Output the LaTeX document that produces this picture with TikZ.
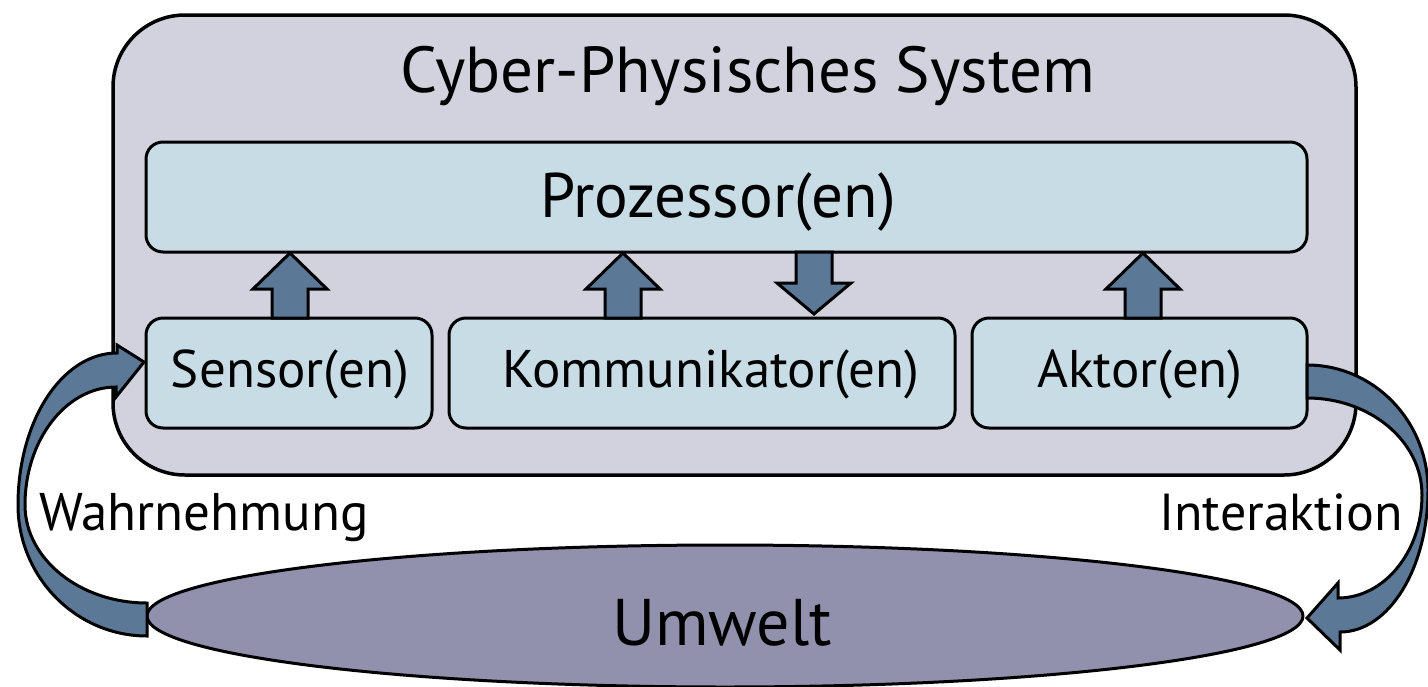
\documentclass[tikz,border=0pt]{standalone}
\usepackage{fontspec}
\setmainfont{PT Sans}
\usetikzlibrary{calc}
\definecolor{outerfill}{HTML}{D2D2DE}
\definecolor{boxfill}{HTML}{C7DCE5}
\definecolor{arrfill}{HTML}{5B7897}
\definecolor{envfill}{HTML}{9191AD}
\tikzset{
  outerbox/.style={draw=black, line width=3.5pt, fill=outerfill, rounded corners=72pt},
  compbox/.style={draw=black, line width=3pt, fill=boxfill, rounded corners=17pt},
  blk/.style={draw=black, line width=3pt, fill=arrfill, line join=miter},
  curvarr/.style={draw=black, line width=3pt, fill=arrfill, line join=miter},
  lbl/.style={anchor=base, inner sep=0pt, text=black},
  pics/uparr/.style={code={\draw[blk] (-18,0) -- (-18,-29) -- (-37,-29) -- (0,-65) -- (37,-29) -- (18,-29) -- (18,0) -- cycle;}},
  pics/downarr/.style={code={\draw[blk] (-18,0) -- (-18,31) -- (-37,31) -- (0,62) -- (37,31) -- (18,31) -- (18,0) -- cycle;}}
}
\begin{document}
\begin{tikzpicture}[x=1pt,y=-1pt]
\useasboundingbox (0,0) rectangle (1428,686);
% outer system
\draw[outerbox] (113,15) rectangle (1356,475);
% processor and components
\draw[compbox] (146,142) rectangle (1307,252);
\draw[compbox] (146,318) rectangle (432,428);
\draw[compbox] (449,318) rectangle (955,428);
\draw[compbox] (972,318) rectangle (1307,428);
\coordinate (senN) at (290,318);
\coordinate (komN) at (623,318);
\coordinate (komD) at (814,252);
\coordinate (aktN) at (1143,318);
% labels
\node[lbl, font=\fontsize{65}{78}\selectfont] (tcps) at (748,92) {Cyber-Physisches System};
\node[lbl, font=\fontsize{63}{76}\selectfont] (tproc) at (718,217) {Prozessor(en)};
\node[lbl, font=\fontsize{53}{64}\selectfont] (tsen) at (290,387) {Sensor(en)};
\node[lbl, font=\fontsize{53}{64}\selectfont] (tkom) at (711,387) {Kommunikator(en)};
\node[lbl, font=\fontsize{53}{64}\selectfont] (takt) at (1140,387) {Aktor(en)};
% block arrows
\pic at (senN) {uparr};
\pic at (komN) {uparr};
\pic at (komD) {downarr};
\pic at (aktN) {uparr};
% environment
\draw[draw=black, line width=3pt, fill=envfill] (725,616) ellipse [x radius=578, y radius=71];
\node[lbl, font=\fontsize{66}{78}\selectfont] (tenv) at (722,645) {Umwelt};
% curved arrows
\draw[curvarr] (147,603) -- (147,636)
  .. controls (76,636) and (18,577) .. (18,505)
  .. controls (18,421) and (62,353) .. (117,353)
  -- (117,345) -- (144,362) -- (116,397) -- (116,387)
  .. controls (66,387) and (25,440) .. (25,505)
  .. controls (25,559) and (80,603) .. (147,603) -- cycle;
\draw[curvarr] (1307,365)
  .. controls (1374,365) and (1428,421) .. (1428,490)
  .. controls (1428,568) and (1389,632) .. (1340,632)
  -- (1340,650) -- (1307,618) -- (1338,583) -- (1338,598)
  .. controls (1384,598) and (1422,552) .. (1422,495)
  .. controls (1422,441) and (1370,398) .. (1307,398) -- cycle;
\node[lbl, font=\fontsize{53}{64}\selectfont] (twahr) at (204,530) {Wahrnehmung};
\node[lbl, font=\fontsize{52}{62}\selectfont] (tint) at (1281,530) {Interaktion};
\end{tikzpicture}
\end{document}
